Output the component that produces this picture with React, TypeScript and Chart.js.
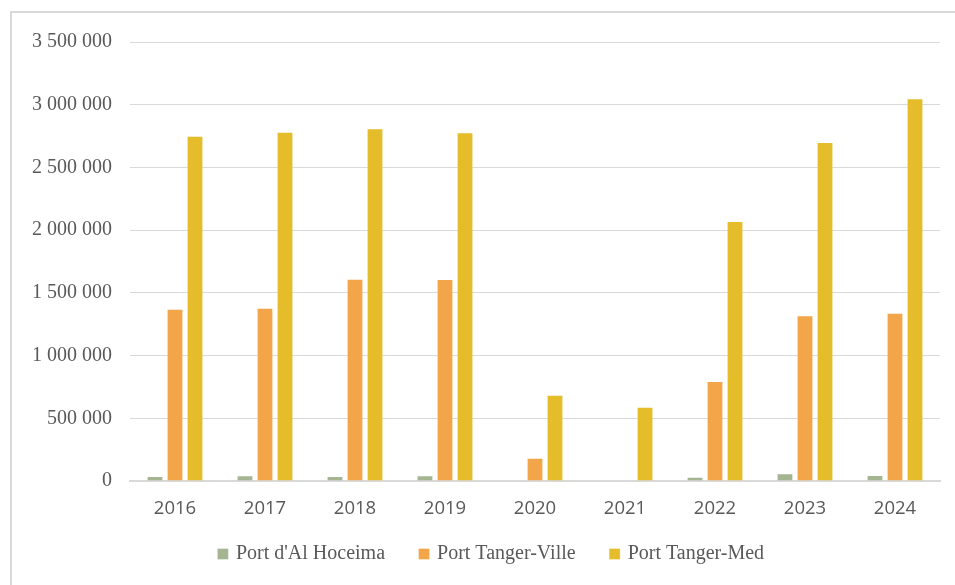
import React, { useEffect, useRef } from "react";
import { Chart, registerables } from "chart.js";

Chart.register(...registerables);

const years = ["2016", "2017", "2018", "2019", "2020", "2021", "2022", "2023", "2024"];
const alHoceima = [40000, 45000, 40000, 45000, 0, 0, 34000, 62000, 48000];
const tangerVille = [1373000, 1382000, 1612000, 1610000, 185000, 0, 798000, 1322000, 1342000];
const tangerMed = [2752000, 2785000, 2812000, 2780000, 688000, 592000, 2072000, 2702000, 3052000];
const seriesNames = ["Port d'Al Hoceima", "Port Tanger-Ville", "Port Tanger-Med"];
const seriesColors = ["#a5b592", "#f3a54a", "#e5bc2a"];
const yMax = 3500000;
const yStep = 500000;

const fmt = (v: number) => String(Math.round(v)).replace(/\B(?=(\d{3})+(?!\d))/g, " ");

const legendShift = {
  id: "legendShift",
  afterLayout(chart: any) {
    const l = chart.legend;
    if (!l) return;
    l.left += 22;
    l.right += 22;
    l.top -= 13;
    l.bottom -= 13;
  },
};

export default function App() {
  const ref = useRef<HTMLCanvasElement | null>(null);
  useEffect(() => {
    document.body.style.overflow = "hidden";
    const ctx = ref.current!;
    const data = [alHoceima, tangerVille, tangerMed];
    const chart = new Chart(ctx, {
      type: "bar",
      data: {
        labels: years,
        datasets: seriesNames.map((name, i) => ({
          label: name,
          data: data[i],
          backgroundColor: seriesColors[i],
          borderColor: "rgba(255,255,255,0.35)",
          borderWidth: 1,
          barPercentage: 0.84,
          categoryPercentage: 0.667,
        })),
      },
      plugins: [legendShift],
      options: {
        responsive: false,
        animation: false,
        layout: { padding: { left: 0, right: 15, top: 42, bottom: -2 } },
        plugins: {
          tooltip: { enabled: false },
          legend: {
            position: "bottom",
            labels: {
              usePointStyle: true,
              pointStyle: "rect",
              boxWidth: 6,
              boxHeight: 11,
              padding: 36,
              color: "#595959",
              font: { family: "'Liberation Serif', serif", size: 20 },
            },
          },
        },
        scales: {
          x: {
            grid: { display: false, drawTicks: false },
            border: { display: true, color: "#d9d9d9", width: 2 },
            ticks: {
              padding: 17,
              color: "#595959",
              font: { family: "'Open Sans', sans-serif", size: 18.5 },
            },
            afterFit: (s: any) => {
              s.height = 40;
            },
          },
          y: {
            min: 0,
            max: yMax,
            ticks: {
              stepSize: yStep,
              padding: 18,
              color: "#595959",
              font: { family: "'Liberation Serif', serif", size: 20 },
              callback: (v: any) => fmt(Number(v)),
            },
            grid: { color: "#d9d9d9", lineWidth: 1, drawTicks: false },
            border: { display: false },
            afterFit: (s: any) => {
              s.width = 130;
            },
          },
        },
      },
    });
    return () => chart.destroy();
  }, []);
  return (
    <div style={{ position: "fixed", left: 0, top: 0, width: 955, height: 585, background: "#fff" }}>
      <div
        style={{
          position: "absolute",
          left: 10,
          top: 11,
          width: 945,
          height: 574,
          borderLeft: "2px solid #d9d9d9",
          borderTop: "2px solid #d9d9d9",
          boxSizing: "border-box",
        }}
      />
      <canvas ref={ref} width={955} height={585} style={{ position: "absolute", left: 0, top: 0 }} />
    </div>
  );
}
